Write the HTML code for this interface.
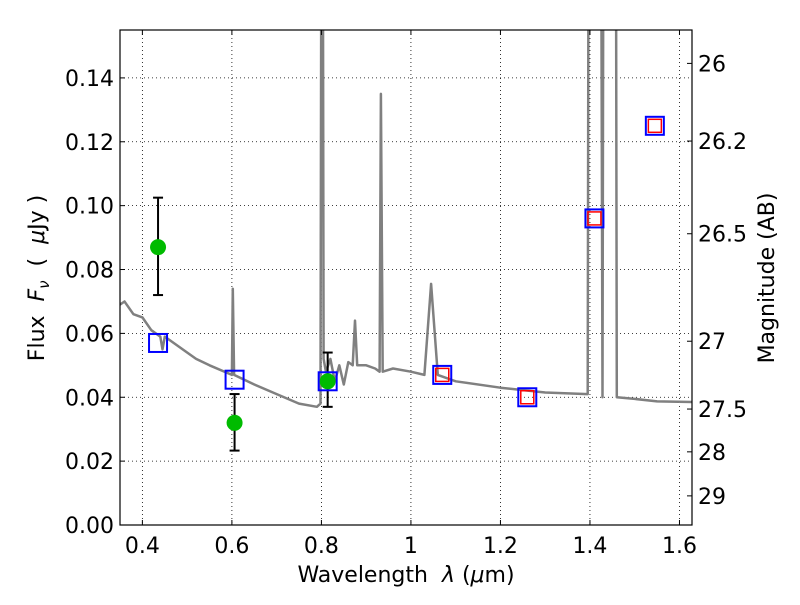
<!DOCTYPE html>
<html><head><meta charset="utf-8"><style>
body{margin:0;background:#fff}
svg text{font-family:"DejaVu Sans","Liberation Sans",sans-serif;fill:#000}
</style></head><body>
<svg id="chart" width="800" height="600" viewBox="0 0 800 600">
<defs><clipPath id="clip"><rect x="120" y="30" width="572" height="495"/></clipPath></defs>
<rect x="0" y="0" width="800" height="600" fill="#fff"/>
<g id="grid"></g>
<g id="series" clip-path="url(#clip)"></g>
<rect x="120" y="30" width="572" height="495" fill="none" stroke="#000" stroke-width="1.2"/>
<g id="axes"></g>
<text x="406" y="582" font-size="22" text-anchor="middle">Wavelength&#160;&#160;<tspan font-style="italic">λ</tspan>&#160;(<tspan font-style="italic">μ</tspan>m)</text>
<text transform="translate(44,278) rotate(-90)" font-size="22" text-anchor="middle">Flux&#160;&#160;<tspan font-style="italic">F<tspan font-size="15" dy="5">ν</tspan></tspan><tspan dy="-5">&#160;&#160;(&#160;&#160;</tspan><tspan font-style="italic">μ</tspan>Jy&#160;)</text>
<text transform="translate(774,278) rotate(-90)" font-size="22" text-anchor="middle">Magnitude (AB)</text>
</svg>
<script>
const xTicks=[0.4,0.6,0.8,1.0,1.2,1.4,1.6];
const xTickLabels=["0.4","0.6","0.8","1","1.2","1.4","1.6"];
const yTicks=[0,0.02,0.04,0.06,0.08,0.10,0.12,0.14];
const yTickLabels=["0.00","0.02","0.04","0.06","0.08","0.10","0.12","0.14"];
const magTicks=[26,26.2,26.5,27,27.5,28,29];
const magTickLabels=["26","26.2","26.5","27","27.5","28","29"];
const specWave=[0.35,0.36,0.38,0.40,0.42,0.44,0.445,0.45,0.50,0.52,0.55,0.60,0.602,0.605,0.65,0.70,0.75,0.79,0.798,0.80,0.803,0.805,0.81,0.82,0.83,0.84,0.85,0.86,0.87,0.875,0.88,0.90,0.92,0.930,0.933,0.937,0.96,1.0,1.03,1.045,1.06,1.10,1.20,1.30,1.395,1.397,1.425,1.428,1.43,1.458,1.46,1.50,1.55,1.628];
const specFlux=[0.069,0.070,0.066,0.065,0.061,0.059,0.055,0.059,0.054,0.052,0.050,0.047,0.074,0.047,0.044,0.041,0.038,0.037,0.038,0.20,0.20,0.052,0.048,0.052,0.045,0.050,0.044,0.051,0.050,0.064,0.050,0.050,0.049,0.048,0.135,0.048,0.049,0.048,0.047,0.0755,0.047,0.045,0.043,0.0415,0.041,0.20,0.20,0.040,0.20,0.20,0.040,0.0395,0.0387,0.0385];
const obsWave=[0.435,0.606,0.814];
const obsFlux=[0.087,0.032,0.045];
const obsLo=[0.072,0.0233,0.037];
const obsHi=[0.1025,0.041,0.054];
const modelWave=[0.435,0.606,0.814,1.07,1.26,1.41,1.545];
const modelFlux=[0.057,0.0455,0.045,0.047,0.040,0.096,0.125];
const redWave=[1.07,1.26,1.41,1.545];
const redFlux=[0.047,0.040,0.096,0.125];

const X0=0.35,X1=1.628,Y0=0,Y1=0.155;
const sx=v=>120+(v-X0)/(X1-X0)*572;
const sy=v=>525-(v-Y0)/(Y1-Y0)*495;
const NS='http://www.w3.org/2000/svg';
function mk(parent,tag,attrs){const e=document.createElementNS(NS,tag);for(const k in attrs)e.setAttribute(k,attrs[k]);parent.appendChild(e);return e;}
const grid=document.getElementById('grid'),axes=document.getElementById('axes'),ser=document.getElementById('series');

xTicks.forEach((t,i)=>{const x=sx(t);
 const g=mk(grid,'line',{x1:x,x2:x,y1:30,y2:525,stroke:'#000','stroke-width':0.8,'stroke-dasharray':'1,3'});
 
 
 mk(axes,'line',{x1:x,x2:x,y1:525,y2:520,stroke:'#000'});
 mk(axes,'line',{x1:x,x2:x,y1:30,y2:35,stroke:'#000'});
 const tx=mk(axes,'text',{x:x,y:553,'font-size':22,'text-anchor':'middle'});tx.textContent=xTickLabels[i];
 
 
});
yTicks.forEach((t,i)=>{const y=sy(t);
 const g=mk(grid,'line',{x1:120,x2:692,y1:y,y2:y,stroke:'#000','stroke-width':0.8,'stroke-dasharray':'1,3'});
 
 
 mk(axes,'line',{x1:120,x2:125,y1:y,y2:y,stroke:'#000'});
 const tx=mk(axes,'text',{x:114,y:y+8,'font-size':22,'text-anchor':'end'});tx.textContent=yTickLabels[i];
 
 
});
magTicks.forEach((m,i)=>{const f=Math.pow(10,-(m-23.9)/2.5);const y=sy(f);
 mk(axes,'line',{x1:692,x2:687,y1:y,y2:y,stroke:'#000'});
 const tx=mk(axes,'text',{x:698,y:y+8,'font-size':22});tx.textContent=magTickLabels[i];
 
 
});
const pts=specWave.map((w,i)=>sx(w).toFixed(1)+','+sy(specFlux[i]).toFixed(1)).join(' ');
const sp=mk(ser,'polyline',{points:pts,fill:'none',stroke:'#808080','stroke-width':2.5,'stroke-linejoin':'round'});


obsWave.forEach((w,i)=>{const x=sx(w);
 const eb=mk(ser,'g',{});
 
 
 mk(eb,'line',{x1:x,x2:x,y1:sy(obsLo[i]),y2:sy(obsHi[i]),stroke:'#000','stroke-width':2});
 mk(eb,'line',{x1:x-5,x2:x+5,y1:sy(obsLo[i]),y2:sy(obsLo[i]),stroke:'#000','stroke-width':2});
 mk(eb,'line',{x1:x-5,x2:x+5,y1:sy(obsHi[i]),y2:sy(obsHi[i]),stroke:'#000','stroke-width':2});
});
modelWave.forEach((w,i)=>{
 const r=mk(ser,'rect',{x:sx(w)-9,y:sy(modelFlux[i])-9,width:18,height:18,fill:'none',stroke:'#0000ff','stroke-width':2});
 
 
});
redWave.forEach((w,i)=>{
 const r=mk(ser,'rect',{x:sx(w)-6.5,y:sy(redFlux[i])-6.5,width:13,height:13,fill:'none',stroke:'#ff0000','stroke-width':1.5});
 
 
});
obsWave.forEach((w,i)=>{
 const c=mk(ser,'circle',{cx:sx(w),cy:sy(obsFlux[i]),r:8,fill:'#00bb00'});
 
 
});
</script>
</body></html>
